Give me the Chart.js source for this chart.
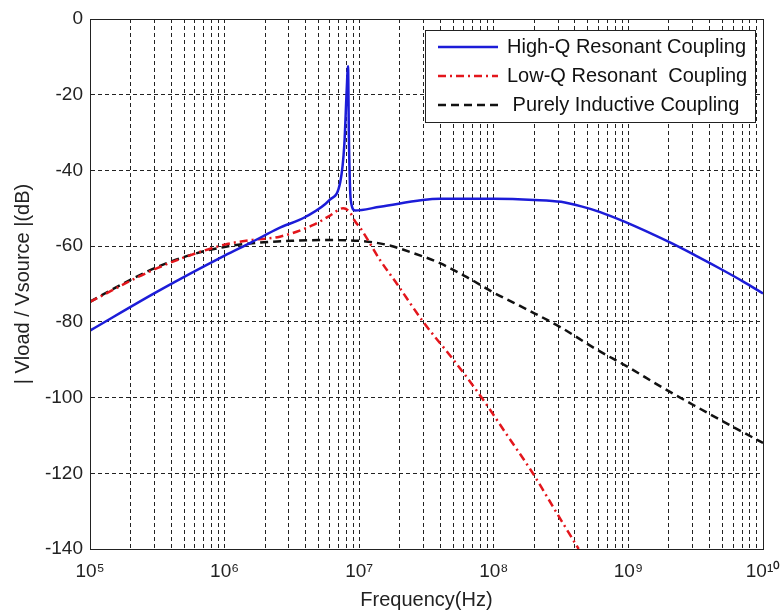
<!DOCTYPE html>
<html>
<head>
<meta charset="utf-8">
<script src="https://cdn.jsdelivr.net/npm/chart.js@4.4.1/dist/chart.umd.min.js"></script>
<style>
  body { margin: 0; background: #fff; }
  #wrap { width: 784px; height: 612px; }
</style>
</head>
<body>
<div id="wrap"><canvas id="respChart"></canvas></div>
<script>
// frequency (Hz) / magnitude (dB)
const highQFreq = [1e5, 3.16e5, 1e6, 1.58e6, 2.51e6, 3.98e6, 6.03e6, 7.24e6, 7.76e6, 8.07e6, 8.26e6, 8.39e6, 8.65e6, 9.31e6, 1.43e7, 3.98e7, 1e8, 2.0e8, 3.16e8, 4.47e8, 6.17e8, 9.44e8, 2.0e9, 3.16e9, 5.01e9, 7.08e9, 1e10];
const highQDb = [-82.3, -72, -62.5, -59, -55.3, -52.3, -47.8, -43, -33, -19, -12.5, -32, -47.8, -50.6, -49.6, -47.5, -47.5, -47.8, -48.3, -49.5, -51, -53.6, -58.9, -62.5, -66.3, -69.3, -72.5];

const lowQFreq = [1e5, 3.16e5, 1e6, 1.58e6, 2.57e6, 4.57e6, 6.03e6, 7.59e6, 8.51e6, 9.33e6, 1.01e7, 1.43e7, 1.91e7, 2.99e7, 5.01e7, 7.94e7, 1.26e8, 1.95e8, 2.88e8, 4.27e8];
const lowQDb = [-74.7, -65.8, -59.6, -58.4, -57.5, -54.4, -52, -50, -51, -53.5, -55, -63.7, -70, -80, -90, -99.5, -110, -120, -130, -140];

const inductiveFreq = [1e5, 1.78e5, 3.16e5, 5.62e5, 1e6, 1.78e6, 3.16e6, 5.62e6, 1e7, 1.58e7, 2.51e7, 3.98e7, 6.31e7, 1e8, 1.78e8, 3.16e8, 5.62e8, 1e9, 1.78e9, 3.16e9, 5.62e9, 1e10];
const inductiveDb = [-74.7, -69.8, -65.5, -62.3, -60.2, -59.1, -58.6, -58.4, -58.6, -59.6, -61.8, -64.5, -68.2, -72.3, -76.8, -81.5, -87, -92, -97.3, -102.3, -107.2, -112];

const seriesLabels = ['High-Q Resonant Coupling', 'Low-Q Resonant  Coupling', ' Purely Inductive Coupling'];
const xDecades = [5, 6, 7, 8, 9, 10];
const yTicks = [0, -20, -40, -60, -80, -100, -120, -140];

const FONT = '"Liberation Sans", Arial, sans-serif';
const SUP = { '0': '⁰', '1': '¹', '5': '⁵', '6': '⁶', '7': '⁷', '8': '⁸', '9': '⁹' };

function toPoints(xs, ys) {
  return xs.map((x, i) => ({ x: x, y: ys[i] }));
}

// 1..9 x 10^n grid positions for every decade
function logGridValues() {
  const vals = [];
  xDecades.forEach((e, i) => {
    if (i === xDecades.length - 1) { vals.push(Math.pow(10, e)); return; }
    for (let m = 1; m <= 9; m++) vals.push(m * Math.pow(10, e));
  });
  return vals;
}

const frame = {
  id: 'frame',
  afterDatasetsDraw(chart) {
    const { ctx, chartArea: a } = chart;
    ctx.save();
    ctx.strokeStyle = '#222';
    ctx.lineWidth = 1;
    ctx.setLineDash([]);
    ctx.strokeRect(a.left + 0.5, a.top + 0.5, a.right - a.left, a.bottom - a.top);
    ctx.restore();
  }
};

const boxedLegend = {
  id: 'boxedLegend',
  afterDraw(chart) {
    const { ctx, chartArea } = chart;
    const w = 330, h = 92;
    const left = chartArea.right - 8 - w;
    const top = chartArea.top + 11;
    ctx.save();
    ctx.fillStyle = '#fff';
    ctx.fillRect(left, top, w, h);
    ctx.strokeStyle = '#222';
    ctx.lineWidth = 1;
    ctx.setLineDash([]);
    ctx.strokeRect(left + 0.5, top + 0.5, w, h);
    ctx.font = '20px ' + FONT;
    ctx.textBaseline = 'middle';
    chart.data.datasets.forEach((ds, i) => {
      const y = top + 17 + i * 29;
      ctx.strokeStyle = ds.borderColor;
      ctx.lineWidth = ds.borderWidth;
      ctx.setLineDash(ds.borderDash || []);
      ctx.beginPath();
      ctx.moveTo(left + 13, y);
      ctx.lineTo(left + 73, y);
      ctx.stroke();
      ctx.fillStyle = '#111';
      ctx.fillText(ds.label, left + 82, y);
    });
    ctx.restore();
  }
};

const ctx = document.getElementById('respChart').getContext('2d');
new Chart(ctx, {
  type: 'line',
  data: {
    datasets: [
      {
        label: seriesLabels[0],
        data: toPoints(highQFreq, highQDb),
        borderColor: '#1c1cd8',
        borderWidth: 2.5,
        pointRadius: 0,
        cubicInterpolationMode: 'monotone'
      },
      {
        label: seriesLabels[1],
        data: toPoints(lowQFreq, lowQDb),
        borderColor: '#e3161c',
        borderWidth: 2.5,
        borderDash: [8, 4, 2, 4],
        pointRadius: 0,
        cubicInterpolationMode: 'monotone'
      },
      {
        label: seriesLabels[2],
        data: toPoints(inductiveFreq, inductiveDb),
        borderColor: '#111',
        borderWidth: 2.5,
        borderDash: [8, 5],
        pointRadius: 0,
        cubicInterpolationMode: 'monotone'
      }
    ]
  },
  options: {
    responsive: true,
    maintainAspectRatio: false,
    animation: false,
    layout: { padding: { top: 19, right: 21, left: 0, bottom: 0 } },
    plugins: {
      legend: { display: false },
      tooltip: { enabled: false }
    },
    scales: {
      x: {
        type: 'logarithmic',
        min: 1e5,
        max: 1e10,
        afterBuildTicks: (scale) => {
          scale.ticks = logGridValues().map(v => ({ value: v }));
        },
        afterFit: (scale) => {
          scale.height = 63;
          // let the 10^10 label hang over the right margin like matlab does
          scale.paddingLeft = 0;
          scale.paddingRight = 0;
        },
        grid: { color: '#222', lineWidth: 1, drawTicks: false },
        border: { display: true, color: '#222', dash: [4, 3] },
        ticks: {
          autoSkip: false,
          maxRotation: 0,
          padding: 11,
          color: '#222',
          font: { family: FONT, size: 19 },
          callback: (v) => {
            const e = Math.log10(v);
            if (Math.abs(e - Math.round(e)) > 1e-9) return '';
            return '10' + String(Math.round(e)).split('').map(c => SUP[c]).join('');
          }
        },
        title: {
          display: true,
          text: 'Frequency(Hz)',
          color: '#222',
          font: { family: FONT, size: 20 },
          padding: { top: 0, bottom: 0 }
        }
      },
      y: {
        min: -140,
        max: 0,
        afterBuildTicks: (scale) => {
          scale.ticks = yTicks.map(v => ({ value: v }));
        },
        afterFit: (scale) => { scale.width = 90; },
        grid: { color: '#222', lineWidth: 1, drawTicks: false },
        border: { display: true, color: '#222', dash: [4, 3] },
        ticks: {
          padding: 7,
          color: '#222',
          font: { family: FONT, size: 19 }
        },
        title: {
          display: true,
          text: '| Vload / Vsource |(dB)',
          color: '#222',
          font: { family: FONT, size: 20 },
          padding: { top: 11, bottom: 0 }
        }
      }
    }
  },
  plugins: [frame, boxedLegend]
});
</script>
</body>
</html>
